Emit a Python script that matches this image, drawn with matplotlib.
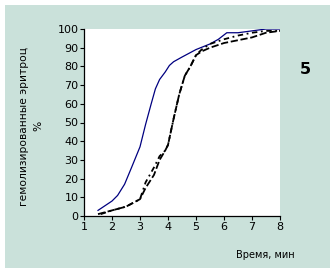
import matplotlib.pyplot as plt
from matplotlib.patches import Rectangle

# кривые гемолиза
blue_x = [1.5, 1.8, 2.0, 2.2, 2.45, 2.7, 3.0, 3.2, 3.4, 3.55, 3.7, 3.9, 4.05, 4.2, 4.5, 5.0, 5.5, 5.8, 6.1, 6.5, 7.0, 7.5, 8.0]
blue_y = [3, 6, 8, 11, 17, 26, 37, 49, 60, 68, 73, 77, 80.5, 82.5, 85, 89, 92, 94.5, 98, 98, 99, 100, 100]

dash_x = [1.5, 2.0, 2.5, 3.0, 3.2, 3.5, 3.7, 3.9, 4.0, 4.2, 4.4, 4.6, 4.8, 5.0, 5.2, 5.5, 6.0, 6.5, 7.0, 7.5, 8.0]
dash_y = [1, 3, 5, 9, 15, 22, 30, 35, 38, 52, 65, 75, 80, 86, 88, 90, 92.5, 94, 95.5, 98, 99]

dot_x = [1.6, 2.0, 2.5, 3.0, 3.2, 3.5, 3.7, 3.9, 4.0, 4.2, 4.4, 4.6, 4.8, 5.0, 5.2, 5.5, 6.0, 6.5, 7.0, 7.5, 8.0]
dot_y = [1, 3, 5, 9, 18, 26, 32, 35, 38, 52, 65, 75, 80, 86, 89, 92, 94.5, 96.5, 98, 99, 99]

fig = plt.figure(figsize=(3.35, 2.73), dpi=100)
fig.patch.set_facecolor("white")
fig.patches.append(Rectangle((5 / 335, 5 / 273), 325 / 335, 263 / 273,
                             transform=fig.transFigure, facecolor="#cae1da",
                             edgecolor="none", zorder=0))

ax = fig.add_axes([84 / 335, 1 - 216 / 273, 196 / 335, 187 / 273])
ax.set_zorder(2)
ax.set_facecolor("white")
ax.plot(blue_x, blue_y, color="#000080", lw=0.9)
ax.plot(dash_x, dash_y, color="black", lw=1.3, dashes=(4, 1.5))
ax.plot(dot_x, dot_y, color="black", lw=1.3, dashes=(3, 2, 1, 2))

ax.set_xlim(1, 8)
ax.set_ylim(0, 100)
ax.set_xticks(range(1, 9))
ax.set_yticks(range(0, 101, 10))
for s in ["top", "right"]:
    ax.spines[s].set_visible(False)
for s in ["left", "bottom"]:
    ax.spines[s].set_linewidth(0.9)
ax.tick_params(labelsize=8, length=3, width=0.8, pad=1, colors="black")

fig.text(24 / 335, 1 - 126 / 273, "гемолизированные эритроц", rotation=90,
         ha="center", va="center", fontsize=7.7)
fig.text(38 / 335, 1 - 126 / 273, "%", rotation=90, ha="center", va="center", fontsize=7.7)
fig.text(265 / 335, 1 - 255 / 273, "Время, мин", ha="center", va="center", fontsize=7)
fig.text(305 / 335, 1 - 70 / 273, "5", ha="center", va="center", fontsize=11.5, fontweight="bold")

fig.savefig("out.png", dpi=100)
